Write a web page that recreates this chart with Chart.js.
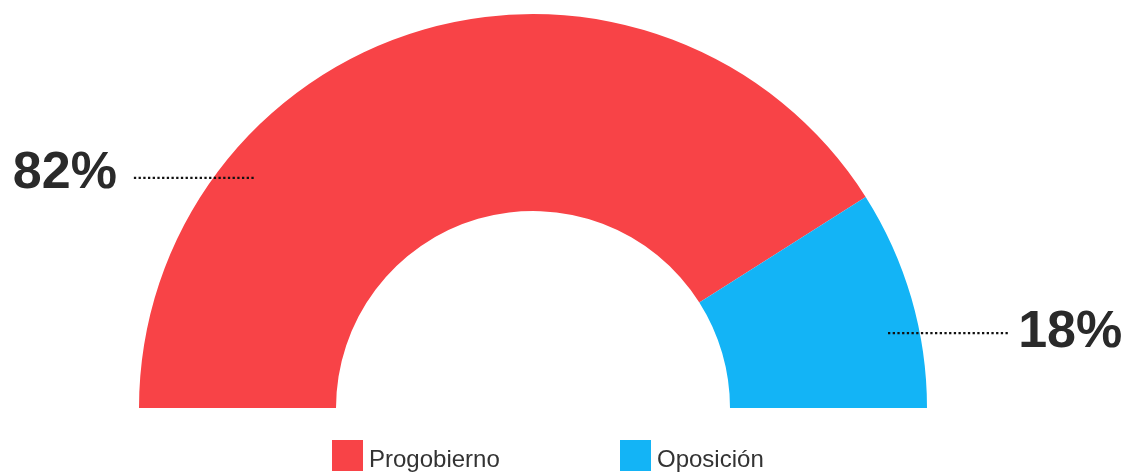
<!DOCTYPE html>
<html lang="es">
<head>
    <meta charset="UTF-8">
    <title>Progobierno vs Oposición</title>
    <script src="https://cdn.jsdelivr.net/npm/chart.js"></script>
    <style>
        body { margin: 0; background: #ffffff; }
        #caja { position: relative; width: 1130px; height: 472px; overflow: hidden; }
        .leyenda-item { position: absolute; top: 440px; }
        .leyenda-cuadro { position: absolute; left: 0; top: 0; width: 31px; height: 31px; }
        .leyenda-texto {
            position: absolute; left: 37px; top: 5px; white-space: nowrap;
            font-family: "Liberation Sans", Arial, sans-serif; font-size: 24px; color: #333333;
        }
    </style>
</head>
<body>
    <div id="caja">
        <canvas id="graficoDona" width="1130" height="472"></canvas>
        <div id="leyenda"></div>
    </div>
<script>
    // datos del grafico
    const categorias = ['Progobierno', 'Oposición'];
    const valores = [82, 18];
    const etiquetas = ['82%', '18%'];
    const colores = ['#F84347', '#13B4F6'];

    // leyenda en html debajo de la media dona
    const posLeyenda = [332, 620];
    const leyenda = document.getElementById('leyenda');
    categorias.forEach(function (nombre, i) {
        const item = document.createElement('div');
        item.className = 'leyenda-item';
        item.style.left = posLeyenda[i] + 'px';
        item.innerHTML = '<div class="leyenda-cuadro" style="background:' + colores[i] + '"></div>' +
            '<span class="leyenda-texto">' + nombre + '</span>';
        leyenda.appendChild(item);
    });

    // porcentajes con linea punteada
    const etiquetasPlugin = {
        id: 'etiquetasPorcentaje',
        afterDraw(chart) {
            const arco = chart.getDatasetMeta(0).data[0];
            const cx = arco.x, cy = arco.y, r = arco.outerRadius;
            const ctx = chart.ctx;
            // [x inicio linea, x fin linea, y linea, lado del texto]
            const pos = [
                [cx - 1.013 * r, cx - 0.706 * r, cy - 0.584 * r, 'izq'],
                [cx + 0.901 * r, cx + 1.211 * r, cy - 0.190 * r, 'der']
            ];
            ctx.save();
            pos.forEach(function (p, i) {
                ctx.beginPath();
                ctx.setLineDash([2.3, 2.4]);
                ctx.lineWidth = 2.3;
                ctx.strokeStyle = '#111111';
                ctx.moveTo(p[0], p[2]);
                ctx.lineTo(p[1], p[2]);
                ctx.stroke();
                ctx.setLineDash([]);
                ctx.fillStyle = '#2a2a2a';
                ctx.font = 'bold 52px "Liberation Sans", Arial, sans-serif';
                ctx.textBaseline = 'alphabetic';
                if (p[3] === 'izq') {
                    ctx.textAlign = 'right';
                    ctx.fillText(etiquetas[i], p[0] - 17, p[2] + 10);
                } else {
                    ctx.textAlign = 'left';
                    ctx.fillText(etiquetas[i], p[1] + 8, p[2] + 14);
                }
            });
            ctx.restore();
        }
    };

    new Chart(document.getElementById('graficoDona'), {
        type: 'doughnut',
        data: {
            labels: categorias,
            datasets: [{
                data: valores,
                backgroundColor: colores,
                borderWidth: 0
            }]
        },
        options: {
            responsive: false,
            animation: false,
            rotation: -90,
            circumference: 180,
            cutout: '50%',
            layout: { padding: { left: 139, right: 203, top: 14, bottom: 64 } },
            plugins: {
                legend: { display: false },
                tooltip: { enabled: false }
            }
        },
        plugins: [etiquetasPlugin]
    });
</script>
</body>
</html>
